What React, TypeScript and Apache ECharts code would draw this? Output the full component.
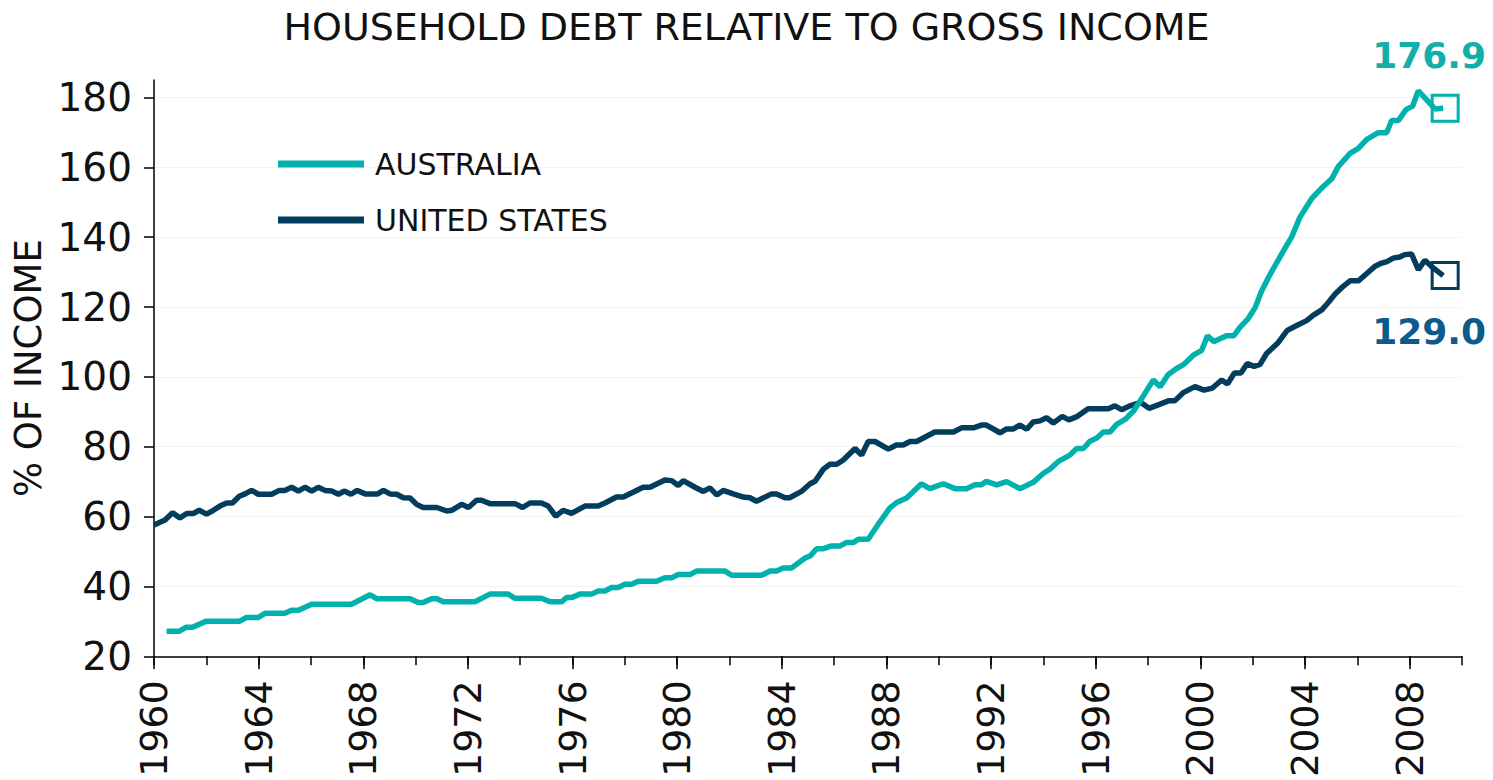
import React, { useEffect, useRef } from "react";
import * as echarts from "echarts";

const TITLE = "HOUSEHOLD DEBT RELATIVE TO GROSS INCOME";
const Y_NAME = "% OF INCOME";
const SERIES_NAMES = ["AUSTRALIA", "UNITED STATES"];

const yTicks = [20, 40, 60, 80, 100, 120, 140, 160, 180];
const xMajorTicks = [1960, 1964, 1968, 1972, 1976, 1980, 1984, 1988, 1992, 1996, 2000, 2004, 2008];

const usYears = [
  1960.0, 1960.42, 1960.71, 1960.99, 1961.25, 1961.5, 1961.73, 1962.01, 1962.27, 1962.52, 1962.78, 1963.0,
  1963.26, 1963.48, 1963.73, 1963.99, 1964.5, 1964.79, 1965.0, 1965.26, 1965.52, 1965.77, 1966.03, 1966.28,
  1966.53, 1966.79, 1967.05, 1967.27, 1967.53, 1967.77, 1968.07, 1968.55, 1968.77, 1969.02, 1969.28, 1969.53,
  1969.79, 1970.04, 1970.29, 1970.81, 1971.19, 1971.38, 1971.76, 1972.02, 1972.33, 1972.52, 1972.84, 1973.8,
  1974.09, 1974.37, 1974.81, 1975.07, 1975.36, 1975.64, 1975.96, 1976.47, 1976.98, 1977.24, 1977.68, 1977.94,
  1978.7, 1978.96, 1979.53, 1979.79, 1980.04, 1980.23, 1980.68, 1981.0, 1981.25, 1981.51, 1981.76, 1982.14,
  1982.53, 1982.78, 1983.03, 1983.61, 1983.8, 1984.12, 1984.3, 1984.75, 1985.08, 1985.27, 1985.59, 1985.84,
  1986.1, 1986.35, 1986.8, 1987.05, 1987.3, 1987.56, 1988.07, 1988.38, 1988.64, 1988.9, 1989.15, 1989.85,
  1990.56, 1990.87, 1991.32, 1991.63, 1991.82, 1992.34, 1992.59, 1992.85, 1993.1, 1993.36, 1993.61, 1993.87,
  1994.12, 1994.38, 1994.72, 1994.97, 1995.3, 1995.71, 1996.48, 1996.73, 1996.99, 1997.31, 1997.63, 1997.75,
  1998.04, 1998.46, 1998.8, 1999.03, 1999.35, 1999.79, 2000.14, 2000.46, 2000.81, 2001.04, 2001.3, 2001.55,
  2001.79, 2002.05, 2002.28, 2002.53, 2002.95, 2003.32, 2003.68, 2004.06, 2004.32, 2004.64, 2004.89, 2005.15,
  2005.47, 2005.72, 2006.04, 2006.36, 2006.68, 2006.87, 2007.13, 2007.37, 2007.62, 2007.81, 2008.07, 2008.33,
  2008.58, 2008.9, 2009.28,
];
const usValues = [
  57.6, 59.0, 61.1, 59.6, 60.9, 60.9, 61.8, 60.7, 61.8, 63.0, 63.9, 63.9,
  65.8, 66.5, 67.5, 66.4, 66.4, 67.5, 67.5, 68.4, 67.3, 68.4, 67.3, 68.4,
  67.5, 67.3, 66.4, 67.3, 66.4, 67.5, 66.5, 66.5, 67.5, 66.5, 66.4, 65.4,
  65.3, 63.5, 62.6, 62.6, 61.6, 61.8, 63.5, 62.6, 64.7, 64.7, 63.7, 63.7,
  62.6, 63.9, 63.9, 63.0, 60.1, 61.8, 60.9, 63.0, 63.0, 63.9, 65.6, 65.6,
  68.4, 68.4, 70.5, 70.3, 68.9, 70.3, 68.4, 67.2, 68.2, 66.2, 67.5, 66.5,
  65.6, 65.4, 64.4, 66.5, 66.5, 65.4, 65.4, 67.2, 69.4, 70.1, 73.6, 75.0,
  75.0, 76.2, 79.5, 77.6, 81.5, 81.5, 79.3, 80.5, 80.5, 81.5, 81.5, 84.2,
  84.2, 85.4, 85.4, 86.2, 86.2, 84.0, 85.1, 85.1, 86.2, 85.0, 87.1, 87.4,
  88.3, 86.8, 88.7, 87.7, 88.7, 90.9, 90.9, 91.7, 90.6, 91.7, 92.5, 92.5,
  91.0, 92.2, 93.2, 93.2, 95.5, 97.2, 96.2, 96.8, 99.1, 98.0, 101.1, 101.1,
  103.8, 103.0, 103.6, 106.7, 109.6, 113.3, 114.7, 116.1, 117.7, 119.2, 121.3, 123.7,
  126.0, 127.5, 127.5, 129.6, 131.7, 132.4, 133.0, 134.0, 134.3, 135.0, 135.2, 130.7,
  133.4, 131.2, 129.0,
];

const auYears = [
  1960.48, 1960.97, 1961.22, 1961.47, 1961.98, 1963.26, 1963.52, 1963.99, 1964.24, 1965.0, 1965.26, 1965.52,
  1966.03, 1967.55, 1968.26, 1968.51, 1969.79, 1970.1, 1970.29, 1970.61, 1970.81, 1971.06, 1972.27, 1972.84,
  1973.54, 1973.8, 1974.81, 1975.14, 1975.58, 1975.77, 1975.96, 1976.28, 1976.73, 1976.98, 1977.24, 1977.49,
  1977.75, 1978.0, 1978.26, 1978.51, 1979.21, 1979.53, 1979.79, 1980.04, 1980.49, 1980.74, 1981.83, 1982.08,
  1983.23, 1983.55, 1983.8, 1984.05, 1984.37, 1984.63, 1984.88, 1985.08, 1985.33, 1985.59, 1985.9, 1986.23,
  1986.48, 1986.74, 1986.93, 1987.3, 1987.75, 1988.13, 1988.39, 1988.77, 1989.34, 1989.66, 1990.17, 1990.62,
  1991.06, 1991.38, 1991.63, 1991.82, 1992.21, 1992.59, 1993.1, 1993.61, 1994.0, 1994.25, 1994.57, 1995.01,
  1995.27, 1995.53, 1995.78, 1996.04, 1996.29, 1996.54, 1996.8, 1997.12, 1997.44, 1997.69, 1997.94, 1998.2,
  1998.46, 1998.77, 1999.09, 1999.35, 1999.73, 2000.05, 2000.27, 2000.52, 2001.0, 2001.28, 2001.51, 2001.83,
  2002.09, 2002.34, 2002.66, 2002.91, 2003.23, 2003.49, 2003.81, 2004.25, 2004.64, 2005.02, 2005.27, 2005.72,
  2006.04, 2006.36, 2006.8, 2007.12, 2007.31, 2007.57, 2007.86, 2008.11, 2008.33, 2008.65, 2008.97, 2009.28,
];
const auValues = [
  27.2, 27.2, 28.3, 28.3, 30.0, 30.0, 31.1, 31.1, 32.3, 32.3, 33.2, 33.2,
  34.9, 34.9, 37.6, 36.5, 36.5, 35.4, 35.4, 36.5, 36.5, 35.6, 35.6, 37.8,
  37.8, 36.6, 36.6, 35.6, 35.6, 36.8, 36.8, 37.8, 37.8, 38.7, 38.7, 39.7,
  39.7, 40.6, 40.6, 41.5, 41.5, 42.5, 42.5, 43.4, 43.4, 44.4, 44.4, 43.2,
  43.2, 44.4, 44.4, 45.3, 45.3, 46.7, 48.1, 48.7, 50.8, 50.8, 51.6, 51.6,
  52.6, 52.6, 53.5, 53.5, 58.5, 62.5, 64.0, 65.3, 69.4, 68.0, 69.4, 68.0,
  68.0, 69.1, 69.1, 70.1, 69.1, 70.0, 68.0, 69.8, 72.4, 73.6, 75.8, 77.6,
  79.5, 79.5, 81.6, 82.5, 84.2, 84.2, 86.4, 87.8, 90.2, 93.0, 96.0, 99.1,
  97.2, 100.7, 102.4, 103.5, 106.2, 107.6, 111.8, 110.1, 111.8, 111.8, 114.2, 116.7,
  119.8, 124.6, 129.3, 132.6, 136.8, 140.1, 145.8, 151.0, 154.1, 156.7, 160.2, 164.0,
  165.4, 168.0, 169.9, 169.9, 173.4, 173.4, 176.5, 177.5, 181.9, 179.3, 176.7, 176.9,
];

const TEAL = "#00B1AD";
const NAVY = "#033D5D";
const TEAL_LABEL = "#12AFA9";
const NAVY_LABEL = "#0F5A8C";
const FONT = "DejaVu Sans";

export default function App() {
  const ref = useRef<HTMLDivElement>(null);

  useEffect(() => {
    if (!ref.current) return;
    const chart = echarts.init(ref.current, null, { renderer: "svg" });
    const auData = auYears.map((y, i) => [y, auValues[i]]);
    const usData = usYears.map((y, i) => [y, usValues[i]]);
    const auLast = auData[auData.length - 1];
    const usLast = usData[usData.length - 1];
    const axisLineStyle = { color: "#000", width: 1.5 };

    chart.setOption({
      animation: false,
      backgroundColor: "#ffffff",
      title: {
        text: TITLE,
        left: "center",
        top: 3,
        textStyle: { fontFamily: FONT, fontSize: 38, fontWeight: "normal", color: "#111" },
      },
      legend: {
        data: SERIES_NAMES,
        orient: "vertical",
        left: 278,
        top: 149,
        padding: 0,
        icon: "rect",
        itemWidth: 86,
        itemHeight: 7,
        itemGap: 26,
        textStyle: { fontFamily: FONT, fontSize: 30, color: "#111", padding: [0, 0, 0, 6] },
      },
      grid: { left: 154, right: 31, top: 80, bottom: 118, containLabel: false },
      xAxis: [
        {
          type: "value",
          min: 1960,
          max: 2010,
          interval: 2,
          position: "bottom",
          axisLine: { show: true, lineStyle: axisLineStyle },
          axisTick: { show: true, length: 9, lineStyle: axisLineStyle },
          axisLabel: { show: false },
          splitLine: { show: false },
        },
        {
          type: "value",
          min: 1960,
          max: 2010,
          interval: 4,
          position: "bottom",
          axisLine: { show: false },
          axisTick: { show: true, length: 13, customValues: xMajorTicks, lineStyle: axisLineStyle },
          axisLabel: {
            show: true,
            customValues: xMajorTicks,
            rotate: 90,
            margin: 24,
            fontFamily: FONT,
            fontSize: 38,
            color: "#111",
            formatter: (v: number) => String(v),
          },
          splitLine: { show: false },
        },
      ],
      yAxis: {
        type: "value",
        min: 20,
        max: 185,
        interval: 20,
        name: Y_NAME,
        nameLocation: "middle",
        nameRotate: 90,
        nameGap: 101,
        nameTextStyle: { fontFamily: FONT, fontSize: 37, color: "#111" },
        axisLine: { show: true, lineStyle: axisLineStyle },
        axisTick: { show: true, length: 10, customValues: yTicks, lineStyle: axisLineStyle },
        axisLabel: {
          show: true,
          customValues: yTicks,
          margin: 22,
          fontFamily: FONT,
          fontSize: 39,
          color: "#111",
        },
        splitLine: { show: true, lineStyle: { color: "#f4f4f4", width: 1 } },
      },
      series: [
        {
          name: SERIES_NAMES[0],
          type: "line",
          xAxisIndex: 0,
          data: auData,
          symbol: "none",
          showSymbol: false,
          lineStyle: { width: 5.5, color: TEAL },
          itemStyle: { color: TEAL },
          z: 3,
        },
        {
          name: SERIES_NAMES[1],
          type: "line",
          xAxisIndex: 0,
          data: usData,
          symbol: "none",
          showSymbol: false,
          lineStyle: { width: 5.5, color: NAVY },
          itemStyle: { color: NAVY },
          z: 2,
        },
        {
          name: "AU latest",
          type: "scatter",
          xAxisIndex: 0,
          data: [auLast],
          symbol: "rect",
          symbolSize: 26,
          symbolOffset: [2, 0],
          itemStyle: { color: "rgba(255,255,255,0)", borderColor: TEAL, borderWidth: 3, opacity: 1 },
          label: {
            show: true,
            position: "top",
            distance: 20,
            offset: [-16, 0],
            formatter: (p: any) => p.value[1].toFixed(1),
            fontFamily: FONT,
            fontWeight: "bold",
            fontSize: 36,
            color: TEAL_LABEL,
          },
          z: 4,
        },
        {
          name: "US latest",
          type: "scatter",
          xAxisIndex: 0,
          data: [usLast],
          symbol: "rect",
          symbolSize: 26,
          symbolOffset: [2, 0],
          itemStyle: { color: "rgba(255,255,255,0)", borderColor: NAVY, borderWidth: 3, opacity: 1 },
          label: {
            show: true,
            position: "bottom",
            distance: 23,
            offset: [-16, 0],
            formatter: (p: any) => p.value[1].toFixed(1),
            fontFamily: FONT,
            fontWeight: "bold",
            fontSize: 36,
            color: NAVY_LABEL,
          },
          z: 4,
        },
      ],
    });

    return () => chart.dispose();
  }, []);

  return (
    <div
      ref={ref}
      style={{ position: "fixed", left: 0, top: 0, width: 1493, height: 780, background: "#fff" }}
    />
  );
}
